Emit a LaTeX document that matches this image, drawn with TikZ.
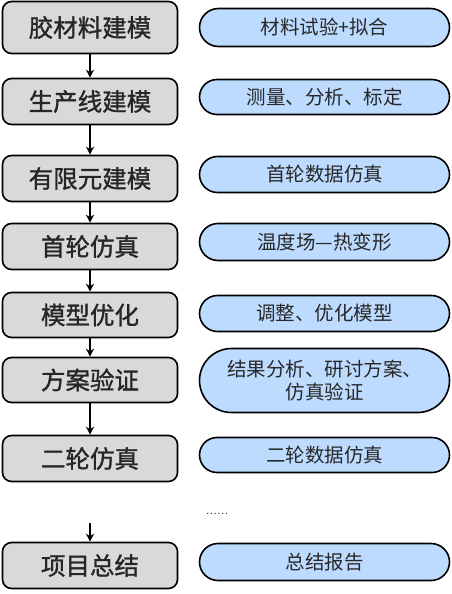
\documentclass[tikz,border=0pt]{standalone}
\usepackage{fontspec}
\newfontfamily\cjk{Noto Sans CJK SC}
\newfontfamily\cjkb{Noto Sans CJK SC}[FakeBold=1.2]
\usetikzlibrary{arrows.meta}
\definecolor{leftfill}{RGB}{217,217,217}
\definecolor{rightfill}{RGB}{189,219,255}
\definecolor{rtext}{RGB}{40,40,40}
\tikzset{
  stepbox/.style={draw=black, line width=1.6pt, fill=leftfill, rounded corners=9pt,
    minimum width=175pt, inner sep=0pt, font=\cjkb\fontsize{24.5}{27}\selectfont, text=black!85},
  notebox/.style={draw=black, line width=1.6pt, fill=rightfill,
    minimum width=250pt, inner sep=0pt, align=center, font=\cjk\fontsize{19.5}{23}\selectfont, text=rtext},
  flow/.style={line width=1.3pt, -{Stealth[length=8pt,width=8pt]}}
}
\begin{document}
\begin{tikzpicture}[x=1pt,y=-1pt]
\useasboundingbox (0,0) rectangle (452,594);
% left steps
\node[stepbox, minimum height=52pt] (l1) at (90,27.5) {胶材料建模};
\node[stepbox, minimum height=46pt] (l2) at (90,101.5) {生产线建模};
\node[stepbox, minimum height=46pt] (l3) at (90,178.5) {有限元建模};
\node[stepbox, minimum height=46pt] (l4) at (90,246.5) {首轮仿真};
\node[stepbox, minimum height=45pt] (l5) at (90,315) {模型优化};
\node[stepbox, minimum height=45pt] (l6) at (90,380) {方案验证};
\node[stepbox, minimum height=46pt] (l7) at (90,458.5) {二轮仿真};
\node[stepbox, minimum height=46pt] (l8) at (90,565.5) {项目总结};
% right notes
\node[notebox, minimum height=38pt, rounded corners=19pt] (r1) at (324.5,27.5) {材料试验+拟合};
\node[notebox, minimum height=35pt, rounded corners=17.5pt] (r2) at (324.5,97) {测量、分析、标定};
\node[notebox, minimum height=36pt, rounded corners=18pt] (r3) at (324.5,174.5) {首轮数据仿真};
\node[notebox, minimum height=37pt, rounded corners=18.5pt] (r4) at (324.5,242) {温度场—热变形};
\node[notebox, minimum height=36pt, rounded corners=18pt] (r5) at (324.5,313.5) {调整、优化模型};
\node[notebox, minimum height=64pt, rounded corners=32pt, text width=240pt] (r6) at (324.5,380.5) {结果分析、研讨方案、\\仿真验证};
\node[notebox, minimum height=35pt, rounded corners=17.5pt] (r7) at (324.5,455) {二轮数据仿真};
\node[notebox, minimum height=37pt, rounded corners=18.5pt] (r8) at (324.5,562) {总结报告};
\node[font=\fontsize{15}{16}\selectfont, inner sep=0pt, text=black] (dots) at (217,514) {......};
% arrows
\draw[flow] (l1) -- (l2);
\draw[flow] (l2) -- (l3);
\draw[flow] (l3) -- (l4);
\draw[flow] (l4) -- (l5);
\draw[flow] (l5) -- (l6);
\draw[flow] (l6) -- (l7);
\coordinate (a8) at (90,523);
\draw[flow] (a8) -- (l8);
\end{tikzpicture}
\end{document}
